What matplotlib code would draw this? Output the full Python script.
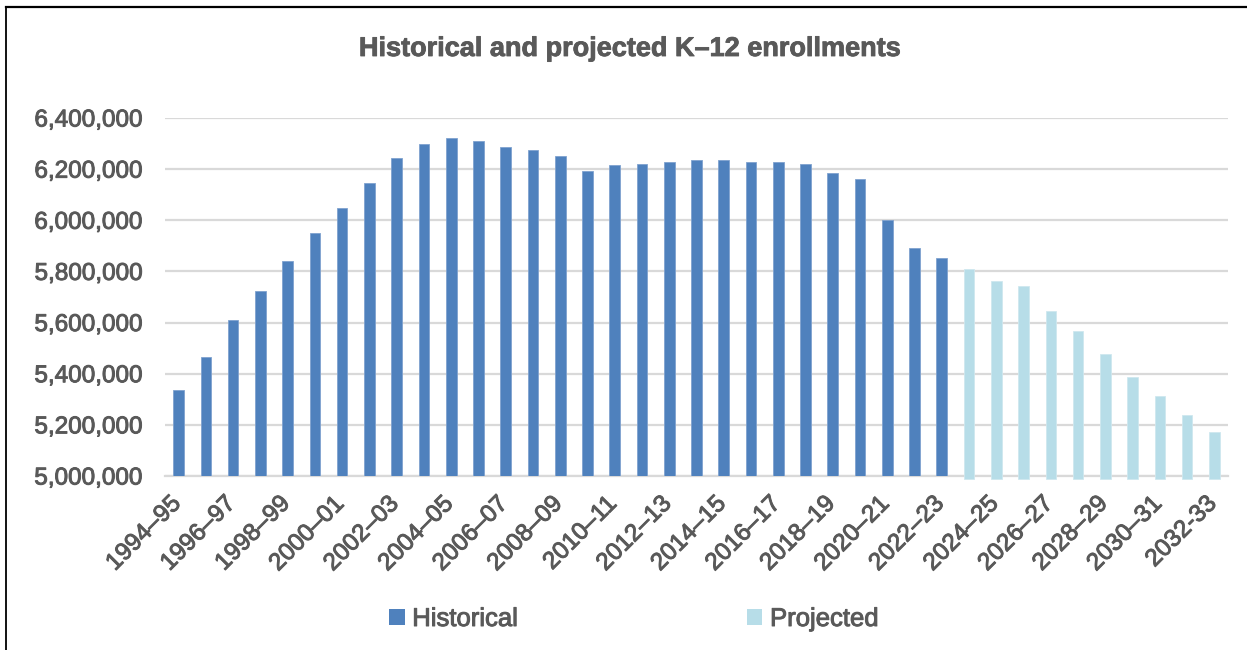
import matplotlib
matplotlib.use("Agg")
import matplotlib.pyplot as plt
import matplotlib.transforms as mtransforms
import matplotlib.patheffects as pe
from matplotlib.lines import Line2D
from matplotlib.patches import Patch
from matplotlib.ticker import FuncFormatter

# School years, 1994-95 through 2032-33
years = [
    "1994–95", "1995–96", "1996–97", "1997–98", "1998–99", "1999–00",
    "2000–01", "2001–02", "2002–03", "2003–04", "2004–05", "2005–06",
    "2006–07", "2007–08", "2008–09", "2009–10", "2010–11", "2011–12",
    "2012–13", "2013–14", "2014–15", "2015–16", "2016–17", "2017–18",
    "2018–19", "2019–20", "2020–21", "2021–22", "2022–23", "2023–24",
    "2024–25", "2025–26", "2026–27", "2027–28", "2028–29", "2029–30",
    "2030–31", "2031–32", "2032-33",
]

historical = [
    5337000, 5465000, 5611000, 5725000, 5842000, 5951000, 6050000,
    6146000, 6243000, 6298000, 6320000, 6311000, 6286000, 6276000,
    6250000, 6192000, 6216000, 6221000, 6226000, 6235000, 6235000,
    6226000, 6229000, 6220000, 6186000, 6161000, 6002000, 5892000,
    5851000,
]

projected = [
    5810000, 5763000, 5744000, 5646000, 5568000,
    5478000, 5388000, 5311000, 5240000, 5174000,
]

y_ticks = [5000000, 5200000, 5400000, 5600000, 5800000, 6000000, 6200000, 6400000]

TITLE = "Historical and projected K–12 enrollments"
HIST_COLOR = "#4F81BD"
PROJ_COLOR = "#B7DDE8"
TEXT_COLOR = "#595959"
GRID_COLOR = "#D9D9D9"
FONT = ["Liberation Sans", "DejaVu Sans"]

# slight stroke to give the labels a heavier, screen-rendered weight
heavy = [pe.withStroke(linewidth=0.7, foreground=TEXT_COLOR)]

W, H = 1247, 650
fig = plt.figure(figsize=(W / 100, H / 100), dpi=100)
fig.patch.set_facecolor("white")

ax = fig.add_axes([165 / W, 1 - 476 / H, (1228 - 165) / W, (476 - 118) / H])

ymin, ymax = y_ticks[0], y_ticks[-1]
n_hist = len(historical)
x_hist = list(range(n_hist))
x_proj = list(range(n_hist, n_hist + len(projected)))

bar_w = 0.39
ax.bar(x_hist, [v - ymin for v in historical], bottom=ymin, width=bar_w,
       color=HIST_COLOR, edgecolor="#7FA2CF", linewidth=0.6, zorder=3)
# projected bars carry a slight overhang below the baseline
overhang = 11000
ax.bar(x_proj, [v - ymin + overhang for v in projected], bottom=ymin - overhang,
       width=bar_w, color=PROJ_COLOR, edgecolor="#CFE8EF", linewidth=0.6,
       zorder=3, clip_on=False)

ax.set_xlim(-0.5, len(years) - 0.5)
ax.set_ylim(ymin, ymax)
ax.set_yticks(y_ticks)
ax.yaxis.set_major_formatter(FuncFormatter(lambda v, p: f"{int(v):,}"))
ax.grid(axis="y", color=GRID_COLOR, linewidth=1.6, zorder=0)
ax.set_axisbelow(True)

for side in ("top", "right", "left"):
    ax.spines[side].set_visible(False)
ax.spines["bottom"].set_color(GRID_COLOR)
ax.spines["bottom"].set_linewidth(1.6)
ax.spines["bottom"].set_zorder(2)

ax.tick_params(axis="y", length=0, pad=16, labelcolor=TEXT_COLOR)
for lab in ax.get_yticklabels():
    lab.set_fontfamily(FONT)
    lab.set_fontsize(17.5)
    lab.set_path_effects(heavy)

xt = list(range(0, len(years), 2))
ax.set_xticks(xt)
ax.set_xticklabels([years[i] for i in xt], rotation=45, ha="right",
                   va="center", rotation_mode="anchor", color=TEXT_COLOR,
                   fontfamily=FONT, fontsize=17.5)
ax.tick_params(axis="x", length=0, pad=17.5)
shift = mtransforms.ScaledTranslation(-1 / 100, 0, fig.dpi_scale_trans)
for lab in ax.get_xticklabels():
    lab.set_transform(lab.get_transform() + shift)
    lab.set_path_effects(heavy)

# title
fig.text(630 / W, 1 - 56 / H, TITLE, ha="center", va="baseline",
         fontsize=19.5, fontweight="bold", color=TEXT_COLOR, fontfamily=FONT,
         path_effects=[pe.withStroke(linewidth=0.6, foreground=TEXT_COLOR)])

# legend
handles = [Patch(facecolor=HIST_COLOR, edgecolor="none", label="Historical"),
           Patch(facecolor=PROJ_COLOR, edgecolor="none", label="Projected")]
leg = fig.legend(handles=handles, loc="center", bbox_to_anchor=(634 / W, 1 - 619 / H),
                 ncol=2, frameon=False, handlelength=0.6, handleheight=0.6,
                 handletextpad=0.3, columnspacing=8.9,
                 prop=dict(family=FONT, size=18.5), labelcolor=TEXT_COLOR)
for t in leg.get_texts():
    t.set_path_effects(heavy)

# outer frame (top and left edges)
fig.add_artist(Line2D([6 / W, 1.0], [1 - 7 / H, 1 - 7 / H], transform=fig.transFigure,
                      color="black", linewidth=1.6))
fig.add_artist(Line2D([6 / W, 6 / W], [0.0, 1 - 7 / H], transform=fig.transFigure,
                      color="black", linewidth=1.3))

fig.savefig("out.png", dpi=100, facecolor="white")
